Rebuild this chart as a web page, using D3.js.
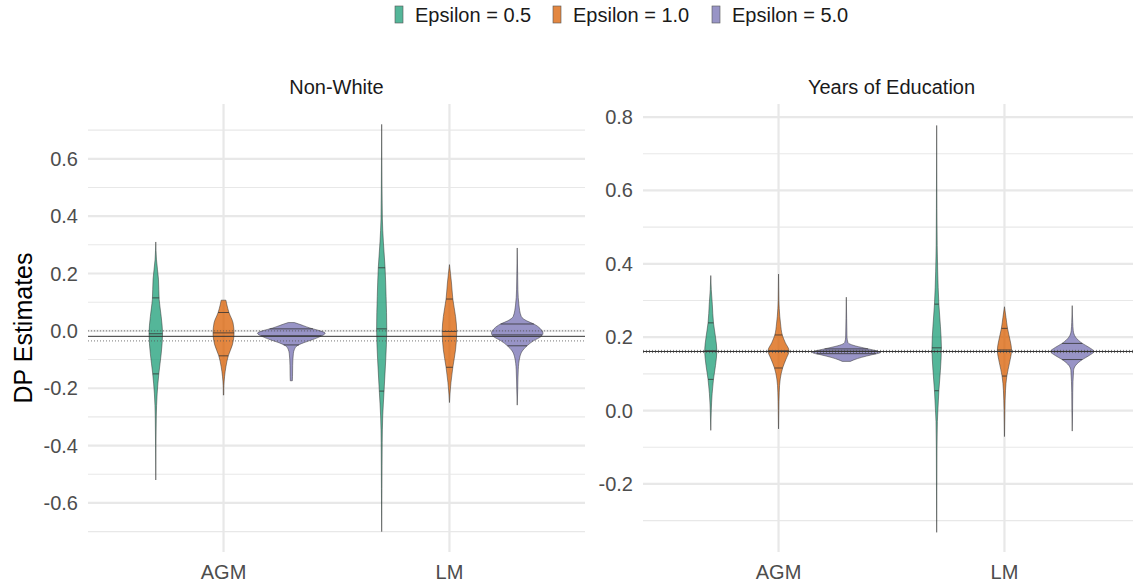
<!DOCTYPE html>
<html>
<head>
<meta charset="utf-8">
<script src="https://cdn.jsdelivr.net/npm/d3@7"></script>
<style>
  html, body { margin: 0; padding: 0; background: #fff; }
  svg { display: block; font-family: "Liberation Sans", Arial, sans-serif; }
</style>
</head>
<body>
<svg id="chart" width="1133" height="588"></svg>
<script>
// ---------------- data ----------------
const panels = ["Non-White", "Years of Education"];
const categories = ["AGM", "LM"];
const series = ["Epsilon = 0.5", "Epsilon = 1.0", "Epsilon = 5.0"];
const seriesColors = ["#1B9E77", "#D95F02", "#7570B3"];

const nonWhiteTicks = [-0.6, -0.4, -0.2, 0.0, 0.2, 0.4, 0.6];
const nonWhiteMinor = [-0.7, -0.5, -0.3, -0.1, 0.1, 0.3, 0.5, 0.7];
const educTicks = [-0.2, 0.0, 0.2, 0.4, 0.6, 0.8];
const educMinor = [-0.3, -0.1, 0.1, 0.3, 0.5, 0.7];
const nonWhiteDomain = [-0.771, 0.791];
const educDomain = [-0.3855, 0.8355];

// reference lines: [estimate, lower, upper]
const nonWhiteRef = [-0.019, -0.035, 0.0];
const educRef = [0.161, 0.158, 0.164];

// violin profiles: [value, relative density (half-width)]
const nwAgm05 = [[0.31,0],[0.25,0.02],[0.18,0.08],[0.11,0.10],[0.05,0.16],[-0.01,0.20],[-0.08,0.16],[-0.15,0.09],[-0.22,0.04],[-0.30,0.015],[-0.40,0.006],[-0.52,0]];
const nwAgm10 = [[0.107,0.07],[0.09,0.10],[0.064,0.16],[0.028,0.28],[-0.007,0.31],[-0.049,0.26],[-0.087,0.14],[-0.125,0.07],[-0.16,0.03],[-0.19,0.01],[-0.224,0.005]];
const nwAgm50 = [[0.029,0.09],[0.024,0.22],[0.018,0.36],[0.01,0.55],[0.0,0.85],[-0.008,1.0],[-0.02,0.85],[-0.031,0.62],[-0.042,0.35],[-0.052,0.17],[-0.065,0.09],[-0.08,0.06],[-0.12,0.04],[-0.16,0.035],[-0.174,0.03]];
const nwLm05 = [[0.72,0],[0.5,0.01],[0.39,0.02],[0.31,0.05],[0.22,0.10],[0.12,0.13],[0.007,0.15],[-0.10,0.12],[-0.21,0.07],[-0.30,0.03],[-0.39,0.015],[-0.55,0.008],[-0.70,0]];
const nwLm10 = [[0.231,0],[0.2,0.03],[0.167,0.06],[0.111,0.10],[0.05,0.18],[-0.002,0.215],[-0.066,0.18],[-0.127,0.10],[-0.18,0.045],[-0.22,0.015],[-0.25,0]];
const nwLm50 = [[0.289,0],[0.2,0.012],[0.143,0.02],[0.09,0.05],[0.05,0.12],[0.035,0.28],[0.024,0.49],[0.008,0.68],[-0.008,0.76],[-0.02,0.70],[-0.034,0.49],[-0.052,0.29],[-0.07,0.15],[-0.09,0.08],[-0.136,0.03],[-0.2,0.015],[-0.259,0]];

const edAgm05 = [[0.368,0],[0.33,0.015],[0.29,0.045],[0.239,0.08],[0.2,0.14],[0.163,0.18],[0.123,0.14],[0.085,0.08],[0.046,0.04],[0.0,0.015],[-0.054,0]];
const edAgm10 = [[0.372,0],[0.3,0.01],[0.278,0.02],[0.236,0.06],[0.206,0.11],[0.185,0.2],[0.163,0.31],[0.14,0.22],[0.116,0.12],[0.086,0.05],[0.05,0.02],[0.0,0.008],[-0.05,0]];
const edAgm50 = [[0.309,0],[0.25,0.01],[0.2,0.02],[0.185,0.05],[0.178,0.2],[0.17,0.55],[0.162,0.92],[0.158,1.0],[0.152,0.75],[0.145,0.45],[0.138,0.22],[0.134,0.12]];
const edLm05 = [[0.777,0],[0.55,0.008],[0.45,0.015],[0.38,0.03],[0.29,0.065],[0.23,0.11],[0.171,0.14],[0.11,0.11],[0.054,0.065],[0.0,0.035],[-0.03,0.02],[-0.1,0.01],[-0.2,0.006],[-0.332,0]];
const edLm10 = [[0.283,0],[0.254,0.045],[0.224,0.09],[0.19,0.17],[0.165,0.21],[0.13,0.15],[0.094,0.07],[0.054,0.03],[0.0,0.012],[-0.071,0]];
const edLm50 = [[0.286,0],[0.24,0.015],[0.218,0.03],[0.2,0.1],[0.183,0.3],[0.172,0.5],[0.161,0.64],[0.15,0.5],[0.139,0.3],[0.123,0.1],[0.109,0.04],[0.05,0.015],[0.0,0.01],[-0.056,0]];

// quartiles [q75, median, q25]
const nwAgmQ = [[0.115,-0.01,-0.15],[0.064,-0.007,-0.087],[0.007,-0.017,-0.049]];
const nwLmQ  = [[0.22,0.007,-0.21],[0.111,-0.002,-0.127],[0.024,-0.014,-0.052]];
const edAgmQ = [[0.239,0.163,0.085],[0.206,0.163,0.116],[0.168,0.162,0.155]];
const edLmQ  = [[0.29,0.171,0.054],[0.224,0.165,0.094],[0.183,0.161,0.139]];

const panelData = [
  { title: panels[0], ticks: nonWhiteTicks, minor: nonWhiteMinor, domain: nonWhiteDomain, ref: nonWhiteRef,
    violins: [[nwAgm05, nwAgm10, nwAgm50], [nwLm05, nwLm10, nwLm50]], quant: [nwAgmQ, nwLmQ] },
  { title: panels[1], ticks: educTicks, minor: educMinor, domain: educDomain, ref: educRef,
    violins: [[edAgm05, edAgm10, edAgm50], [edLm05, edLm10, edLm50]], quant: [edAgmQ, edLmQ] }
];

// ---------------- layout ----------------
const svg = d3.select("#chart");
const panelBoxes = [{ x0: 88, x1: 585 }, { x0: 643, x1: 1140 }];
const yTop = 104, yBot = 552;
const dodge = 0.3, halfMax = 0.15;
const tickCol = "#4d4d4d", gridCol = "#e8e8e8";

function fillAlpha(c, a) { const k = d3.color(c); k.opacity = a; return k.formatRgb(); }

function interp(profile, v) {
  for (let i = 0; i < profile.length - 1; i++) {
    const a = profile[i], b = profile[i + 1];
    if ((v <= a[0] && v >= b[0])) {
      const t = (a[0] - v) / (a[0] - b[0]);
      return a[1] + t * (b[1] - a[1]);
    }
  }
  return 0;
}

panelData.forEach((p, pi) => {
  const box = panelBoxes[pi];
  const x = d3.scaleLinear().domain([0.4, 2.6]).range([box.x0, box.x1]);
  const y = d3.scaleLinear().domain(p.domain).range([yBot, yTop]);
  const g = svg.append("g");

  // minor grid
  g.selectAll(".minor").data(p.minor).join("line")
    .attr("x1", box.x0).attr("x2", box.x1)
    .attr("y1", d => y(d)).attr("y2", d => y(d))
    .attr("stroke", gridCol).attr("stroke-width", 1.1);
  // major grid
  g.selectAll(".major").data(p.ticks).join("line")
    .attr("x1", box.x0).attr("x2", box.x1)
    .attr("y1", d => y(d)).attr("y2", d => y(d))
    .attr("stroke", gridCol).attr("stroke-width", 2.2);
  g.selectAll(".vmajor").data(categories).join("line")
    .attr("x1", (d, i) => x(i + 1)).attr("x2", (d, i) => x(i + 1))
    .attr("y1", yTop).attr("y2", yBot)
    .attr("stroke", gridCol).attr("stroke-width", 2.2);

  // y tick labels
  g.selectAll(".ylab").data(p.ticks).join("text")
    .attr("x", box.x0 - 10).attr("y", d => y(d)).attr("dy", "0.35em")
    .attr("text-anchor", "end").attr("fill", tickCol).attr("font-size", 20)
    .text(d => d3.format(".1f")(d).replace("−", "-"));

  // x labels
  g.selectAll(".xlab").data(categories).join("text")
    .attr("x", (d, i) => x(i + 1)).attr("y", 579)
    .attr("text-anchor", "middle").attr("fill", tickCol).attr("font-size", 20)
    .text(d => d);

  // strip title
  g.append("text").attr("x", (box.x0 + box.x1) / 2).attr("y", 94)
    .attr("text-anchor", "middle").attr("fill", "#1a1a1a").attr("font-size", 20)
    .text(p.title);

  // violins
  p.violins.forEach((catV, ci) => {
    catV.forEach((prof, si) => {
      const cx = ci + 1 + (si - 1) * dodge;
      const area = d3.area()
        .y(d => y(d[0]))
        .x0(d => x(cx - d[1] * halfMax))
        .x1(d => x(cx + d[1] * halfMax))
        .curve(d3.curveMonotoneY);
      g.append("path").datum(prof)
        .attr("d", area)
        .attr("fill", fillAlpha(seriesColors[si], 0.75))
        .attr("stroke", "#333").attr("stroke-width", 0.6)
        .attr("stroke-opacity", 0.85);
      // quartile lines
      p.quant[ci][si].forEach(q => {
        const w = interp(prof, q) * halfMax;
        g.append("line")
          .attr("x1", x(cx - w)).attr("x2", x(cx + w))
          .attr("y1", y(q)).attr("y2", y(q))
          .attr("stroke", "#333").attr("stroke-width", 0.8);
      });
    });
  });

  // reference lines
  g.append("line").attr("x1", box.x0).attr("x2", box.x1)
    .attr("y1", y(p.ref[0])).attr("y2", y(p.ref[0]))
    .attr("stroke", "#333").attr("stroke-width", 1);
  [p.ref[1], p.ref[2]].forEach(r => {
    g.append("line").attr("x1", box.x0).attr("x2", box.x1)
      .attr("y1", y(r)).attr("y2", y(r))
      .attr("stroke", "#555").attr("stroke-width", 0.8)
      .attr("stroke-dasharray", "1,2");
  });
});

// y axis title
svg.append("text")
  .attr("transform", "translate(32," + ((yTop + yBot) / 2) + ") rotate(-90)")
  .attr("text-anchor", "middle").attr("fill", "#000").attr("font-size", 25)
  .text("DP Estimates");

// legend
const legendX = [395, 553, 712];
const leg = svg.append("g");
series.forEach((s, i) => {
  leg.append("rect").attr("x", legendX[i]).attr("y", 6).attr("width", 8).attr("height", 17)
    .attr("fill", fillAlpha(seriesColors[i], 0.75)).attr("stroke", "#555").attr("stroke-width", 0.6);
  leg.append("text").attr("x", legendX[i] + 20).attr("y", 14.5).attr("dy", "0.35em")
    .attr("fill", "#1a1a1a").attr("font-size", 20).text(s);
});
</script>
</body>
</html>
